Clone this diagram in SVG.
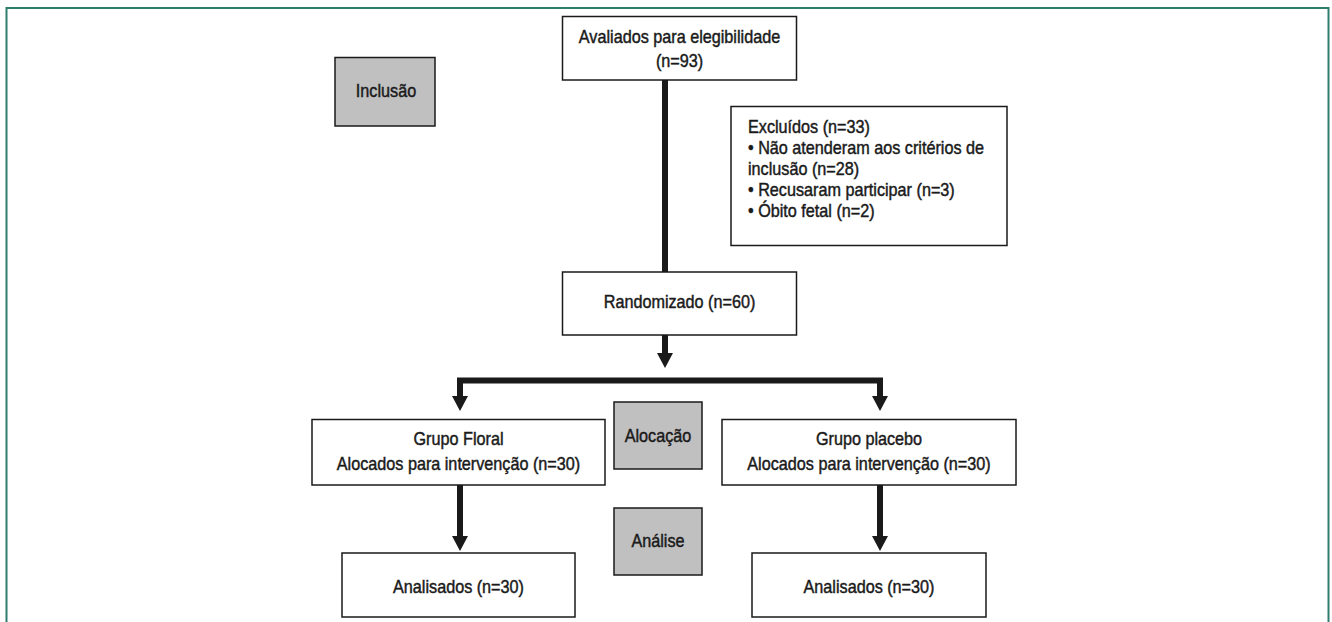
<svg xmlns="http://www.w3.org/2000/svg" width="1332" height="622" viewBox="0 0 1332 622">
<style>
text{font-family:"Liberation Sans",Arial,sans-serif;font-size:18px;fill:#1a1a1a;stroke:#1a1a1a;stroke-width:0.45}
.c{text-anchor:middle}
.box{fill:#fff;stroke:#1a1a1a;stroke-width:1.5}
.gray{fill:#c0c0c1;stroke:#1a1a1a;stroke-width:1.5}
.ln{stroke:#1a1a1a;stroke-width:6;fill:none}
.hd{fill:#1a1a1a}
</style>
<rect x="6.5" y="8" width="1322" height="640" fill="#fff" stroke="#2e7d6e" stroke-width="2"/>
<g id="connectors">
<line class="ln" x1="665" y1="80" x2="665" y2="272"/>
<line class="ln" x1="665" y1="335" x2="665" y2="355"/>
<polygon class="hd" points="657,353 673,353 665,368"/>
<polyline class="ln" points="460,397 460,380.5 880,380.5 880,397"/>
<polygon class="hd" points="452,396 468,396 460,411"/>
<polygon class="hd" points="872,396 888,396 880,411"/>
<line class="ln" x1="460" y1="485" x2="460" y2="538"/>
<polygon class="hd" points="452,536 468,536 460,551"/>
<line class="ln" x1="880" y1="485" x2="880" y2="538"/>
<polygon class="hd" points="872,536 888,536 880,551"/>
</g>
<g id="avaliados">
<rect class="box" x="562.5" y="16.5" width="234" height="63.5"/>
<g transform="translate(679.5,0) scale(0.9,1)">
<text class="c" x="0" y="43">Avaliados para elegibilidade</text>
<text class="c" x="0" y="67">(n=93)</text>
</g>
</g>
<g id="inclusao">
<rect class="gray" x="335" y="57.5" width="100" height="68.5"/>
<text class="c" transform="translate(386,0) scale(0.9,1)" x="0" y="97">Inclusão</text>
</g>
<g id="excluidos">
<rect class="box" x="731" y="106.5" width="276" height="139"/>
<g transform="translate(748,0) scale(0.9,1)">
<text x="0" y="133">Excluídos (n=33)</text>
<text x="0" y="154">• Não atenderam aos critérios de</text>
<text x="0" y="175">inclusão (n=28)</text>
<text x="0" y="196">• Recusaram participar (n=3)</text>
<text x="0" y="217">• Óbito fetal (n=2)</text>
</g>
</g>
<g id="randomizado">
<rect class="box" x="562.5" y="272" width="234" height="63"/>
<text class="c" transform="translate(679.5,0) scale(0.9,1)" x="0" y="308">Randomizado (n=60)</text>
</g>
<g id="grupo-floral">
<rect class="box" x="312" y="419.5" width="293" height="65.5"/>
<g transform="translate(458.5,0) scale(0.9,1)">
<text class="c" x="0" y="445">Grupo Floral</text>
<text class="c" x="0" y="470">Alocados para intervenção (n=30)</text>
</g>
</g>
<g id="alocacao">
<rect class="gray" x="614" y="402" width="88" height="67"/>
<text class="c" transform="translate(658,0) scale(0.9,1)" x="0" y="442">Alocação</text>
</g>
<g id="grupo-placebo">
<rect class="box" x="722" y="419.5" width="294" height="65.5"/>
<g transform="translate(869,0) scale(0.9,1)">
<text class="c" x="0" y="445">Grupo placebo</text>
<text class="c" x="0" y="470">Alocados para intervenção (n=30)</text>
</g>
</g>
<g id="analise">
<rect class="gray" x="614" y="508" width="88" height="67"/>
<text class="c" transform="translate(658,0) scale(0.9,1)" x="0" y="547">Análise</text>
</g>
<g id="analisados-floral">
<rect class="box" x="342" y="553" width="233" height="64"/>
<text class="c" transform="translate(458.5,0) scale(0.9,1)" x="0" y="593">Analisados (n=30)</text>
</g>
<g id="analisados-placebo">
<rect class="box" x="752" y="553" width="234" height="64"/>
<text class="c" transform="translate(869,0) scale(0.9,1)" x="0" y="593">Analisados (n=30)</text>
</g>
</svg>
